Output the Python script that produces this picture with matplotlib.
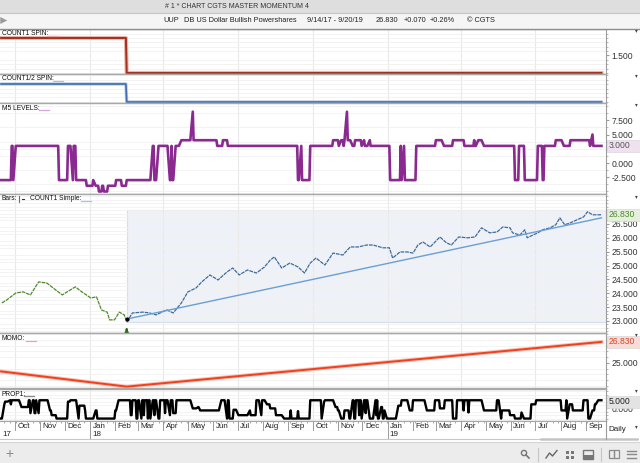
import numpy as np
import pandas as pd
import matplotlib
matplotlib.use("Agg")
import matplotlib.pyplot as plt
import matplotlib.transforms as mtrans
from matplotlib.patches import Rectangle, Circle, FancyBboxPatch

plt.rcParams['font.family'] = ['Liberation Sans', 'DejaVu Sans']

W, H = 640, 463
RX = 606  # right edge of the chart panels, scale column beyond it

# ---- data ----
start_date = "2017-09-14"
turn_date = "2018-02-15"
end_date = "2019-09-20"

spin_dates = [start_date, turn_date, end_date]
count1_spin = [2, 1, 1]
count_half_spin = [2, 1, 1]

m5_points = [
    ("2017-09-14", -3), ("2017-09-27", 3), ("2017-09-29", -3), ("2017-10-02", 3),
    ("2017-11-24", -3), ("2017-12-05", 3), ("2017-12-09", -3), ("2017-12-12", 3),
    ("2017-12-15", -3), ("2017-12-28", -4), ("2018-01-05", -3), ("2018-01-08", -4),
    ("2018-01-12", -5), ("2018-01-16", -4), ("2018-01-18", -5), ("2018-01-23", -4),
    ("2018-02-02", -3), ("2018-02-09", -4), ("2018-02-15", -3), ("2018-03-19", 3),
    ("2018-03-21", -3), ("2018-03-26", 3), ("2018-04-09", -3), ("2018-04-11", 3),
    ("2018-04-12", -3), ("2018-04-16", 3), ("2018-04-23", 4), ("2018-05-07", 9),
    ("2018-05-08", 4), ("2018-06-06", 3), ("2018-06-13", 4), ("2018-06-19", 3),
    ("2018-09-13", -3), ("2018-09-17", 3), ("2018-09-18", -3), ("2018-09-28", 3),
    ("2018-10-26", 4), ("2018-11-02", 3), ("2018-11-05", 4), ("2018-11-08", 3),
    ("2018-11-09", 4), ("2018-11-12", 9), ("2018-11-13", 4), ("2018-11-19", 3),
    ("2018-11-22", 4), ("2018-11-30", 3), ("2018-12-03", 4), ("2018-12-04", 3),
    ("2018-12-10", 4), ("2018-12-11", 3), ("2019-01-04", -3), ("2019-01-17", 3),
    ("2019-01-18", -3), ("2019-01-21", 3), ("2019-01-22", -3), ("2019-02-05", 3),
    ("2019-03-01", 4), ("2019-03-11", 3), ("2019-03-22", 4), ("2019-04-05", 3),
    ("2019-04-17", 4), ("2019-04-18", 3), ("2019-04-22", 4), ("2019-04-29", 3),
    ("2019-06-06", -3), ("2019-06-11", 3), ("2019-06-18", -3), ("2019-07-04", 3),
    ("2019-07-10", -3), ("2019-07-12", 3), ("2019-07-26", 4), ("2019-08-05", 3),
    ("2019-08-13", 4), ("2019-09-06", 3), ("2019-09-09", 5), ("2019-09-10", 3),
    ("2019-09-20", 3),
]

price_before = [
    ("2017-09-15", 23.65), ("2017-09-21", 23.76), ("2017-10-02", 24.01), ("2017-10-11", 24.05),
    ("2017-10-20", 23.94), ("2017-10-30", 24.41), ("2017-11-09", 24.37), ("2017-11-20", 24.12),
    ("2017-11-28", 23.94), ("2017-12-04", 24.05), ("2017-12-14", 24.23), ("2017-12-22", 24.05),
    ("2018-01-02", 23.83), ("2018-01-09", 23.87), ("2018-01-15", 23.40), ("2018-01-22", 23.32),
    ("2018-01-25", 23.04), ("2018-01-31", 23.04), ("2018-02-06", 23.32), ("2018-02-12", 23.22),
    ("2018-02-15", 22.96),
]
price_after = [
    ("2018-02-15", 22.96), ("2018-02-22", 23.29), ("2018-03-07", 23.32), ("2018-03-15", 23.29),
    ("2018-03-23", 23.22), ("2018-04-05", 23.40), ("2018-04-13", 23.29), ("2018-04-23", 23.65),
    ("2018-05-01", 24.05), ("2018-05-11", 24.19), ("2018-05-18", 24.41), ("2018-05-28", 24.66),
    ("2018-06-07", 24.48), ("2018-06-18", 24.77), ("2018-06-25", 24.91), ("2018-07-03", 24.66),
    ("2018-07-13", 24.84), ("2018-07-24", 24.73), ("2018-08-03", 24.95), ("2018-08-10", 25.20),
    ("2018-08-15", 25.31), ("2018-08-24", 24.91), ("2018-09-03", 25.09), ("2018-09-13", 24.95),
    ("2018-09-21", 24.73), ("2018-09-28", 25.09), ("2018-10-05", 25.27), ("2018-10-16", 25.02),
    ("2018-10-26", 25.45), ("2018-11-07", 25.38), ("2018-11-16", 25.67), ("2018-11-26", 25.67),
    ("2018-12-06", 25.74), ("2018-12-14", 25.74), ("2018-12-26", 25.64), ("2019-01-03", 25.64),
    ("2019-01-07", 25.27), ("2019-01-16", 25.49), ("2019-01-25", 25.49), ("2019-02-01", 25.45),
    ("2019-02-07", 25.74), ("2019-02-13", 25.85), ("2019-02-22", 25.67), ("2019-03-06", 26.03),
    ("2019-03-14", 25.82), ("2019-03-20", 25.74), ("2019-03-29", 26.03), ("2019-04-09", 26.00),
    ("2019-04-18", 26.03), ("2019-04-26", 26.36), ("2019-05-06", 26.18), ("2019-05-15", 26.21),
    ("2019-05-22", 26.39), ("2019-05-31", 26.36), ("2019-06-03", 26.18), ("2019-06-12", 26.10),
    ("2019-06-18", 26.29), ("2019-06-21", 26.00), ("2019-06-28", 26.10), ("2019-07-04", 26.18),
    ("2019-07-10", 26.29), ("2019-07-19", 26.36), ("2019-07-26", 26.47), ("2019-07-31", 26.72),
    ("2019-08-06", 26.47), ("2019-08-13", 26.54), ("2019-08-21", 26.65), ("2019-08-29", 26.75),
    ("2019-09-03", 26.94), ("2019-09-09", 26.83), ("2019-09-20", 26.83),
]
last_price = 26.83

trend_dates = [turn_date, end_date]
trend_vals = [23.07, 26.72]

momo_dates = [start_date, turn_date, end_date]
momo_vals = [24.25, 22.92, 26.83]

prop1_points = [
    ("2017-09-14", -7.5), ("2017-09-18", 3), ("2017-09-19", 5), ("2017-09-25", 6),
    ("2017-09-26", 3), ("2017-09-27", 6), ("2017-10-09", 1), ("2017-10-18", 6),
    ("2017-10-20", -3.5), ("2017-10-23", 6), ("2017-10-25", -3.5), ("2017-10-27", 6),
    ("2017-10-30", -3.5), ("2017-10-31", 6), ("2017-11-13", -1.5), ("2017-11-15", -5),
    ("2017-11-21", -7.5), ("2017-12-05", 5), ("2017-12-08", 6), ("2017-12-18", -7.5),
    ("2017-12-19", 2), ("2017-12-26", -1.5), ("2017-12-27", -7.5), ("2018-01-08", -1.5),
    ("2018-01-10", -7.5), ("2018-02-01", -1.5), ("2018-02-05", 6), ("2018-02-20", -5),
    ("2018-02-22", 6), ("2018-02-27", -7.5), ("2018-03-01", 6), ("2018-03-05", -7.5),
    ("2018-03-06", 6), ("2018-03-08", -5), ("2018-03-09", 6), ("2018-03-13", -7.5),
    ("2018-03-14", 6), ("2018-03-16", -7.5), ("2018-03-19", 6), ("2018-03-21", -5),
    ("2018-03-22", 6), ("2018-03-26", -7.5), ("2018-03-28", 6), ("2018-04-03", -3.5),
    ("2018-04-04", 6), ("2018-04-09", -5), ("2018-04-10", 6), ("2018-04-13", -3.5),
    ("2018-04-17", 6), ("2018-05-07", 0), ("2018-05-14", 1), ("2018-05-15", 0),
    ("2018-05-16", -1.5), ("2018-06-11", 6), ("2018-06-18", -7.5), ("2018-06-19", 6),
    ("2018-06-21", -7.5), ("2018-06-26", -1), ("2018-07-02", -5), ("2018-07-16", -1.5),
    ("2018-07-17", -5), ("2018-07-24", 6), ("2018-07-30", -5), ("2018-07-31", 6),
    ("2018-08-06", 3), ("2018-08-10", 0), ("2018-08-17", -5), ("2018-08-27", -7.5),
    ("2018-09-04", -1.5), ("2018-09-05", -7.5), ("2018-09-13", -2), ("2018-09-14", -7.5),
    ("2018-09-28", 6), ("2018-10-12", -7.5), ("2018-10-15", 5), ("2018-10-16", 6),
    ("2018-10-29", 1), ("2018-11-01", -1.5), ("2018-11-05", -7.5), ("2018-11-09", -1.5),
    ("2018-11-15", -7.5), ("2018-11-19", 6), ("2018-11-21", -7.5), ("2018-11-23", 6),
    ("2018-11-27", -5), ("2018-11-28", 6), ("2018-11-30", -7.5), ("2018-12-03", 6),
    ("2018-12-05", -3.5), ("2018-12-06", 6), ("2018-12-10", -7.5), ("2018-12-17", 6),
    ("2018-12-18", -5), ("2018-12-19", 6), ("2018-12-20", -7.5), ("2018-12-24", 1),
    ("2018-12-26", -7.5), ("2018-12-28", -1.5), ("2018-12-31", -7.5), ("2019-01-14", 2),
    ("2019-01-18", 6), ("2019-01-28", -1.5), ("2019-02-01", 6), ("2019-02-18", -1.5),
    ("2019-02-28", 6), ("2019-03-06", 0), ("2019-03-12", 6), ("2019-03-22", -7.5),
    ("2019-03-27", 6), ("2019-04-04", -1.5), ("2019-04-05", 6), ("2019-04-10", -3),
    ("2019-04-11", 6), ("2019-04-29", -1.5), ("2019-05-15", 6), ("2019-05-20", -7.5),
    ("2019-05-21", -1.5), ("2019-05-31", -5), ("2019-06-06", -7.5), ("2019-06-14", -3),
    ("2019-06-17", -7.5), ("2019-06-26", 3), ("2019-07-02", 6), ("2019-08-02", -1.5),
    ("2019-08-08", 6), ("2019-08-09", -7.5), ("2019-08-12", 3), ("2019-08-16", -1.5),
    ("2019-08-29", 6), ("2019-09-04", -7.5), ("2019-09-09", -1.5), ("2019-09-12", 3),
    ("2019-09-16", 6), ("2019-09-20", 6),
]

month_labels = ["Oct", "Nov", "Dec", "Jan", "Feb", "Mar", "Apr", "May", "Jun", "Jul", "Aug", "Sep"]
year_labels = ["17", "18", "19"]

# ---- helpers ----
bdays = pd.bdate_range(start_date, end_date)
x_lo = pd.Timestamp("2017-09-12 16:00")
x_hi = pd.Timestamp("2019-09-25 14:00")
grid_dates = pd.to_datetime(["2017-10-01", "2018-01-01", "2018-04-01", "2018-07-01",
                             "2018-10-01", "2019-01-01", "2019-04-01", "2019-07-01"])


def daily(points):
    s = pd.Series([v for d, v in points], index=pd.to_datetime([d for d, v in points]))
    s = s[~s.index.duplicated(keep="last")]
    return s.reindex(s.index.union(bdays)).ffill().reindex(bdays)


def unzip(points):
    return pd.to_datetime([d for d, v in points]), [v for d, v in points]


fig = plt.figure(figsize=(W / 100, H / 100), dpi=100)
fig.patch.set_facecolor("white")


def px_axes(y0, y1, x0=0, x1=RX):
    return fig.add_axes([x0 / W, 1 - y1 / H, (x1 - x0) / W, (y1 - y0) / H])


def panel(y0, y1, ylim, ticks, minor_step):
    ax = px_axes(y0, y1)
    ax.set_xlim(x_lo, x_hi)
    ax.set_ylim(*ylim)
    ax.spines["left"].set_visible(False)
    for s in ["top", "bottom"]:
        ax.spines[s].set_color("#a8a8a8")
        ax.spines[s].set_linewidth(1.0)
    ax.spines["right"].set_color("#9c9c9c")
    ax.yaxis.tick_right()
    ax.set_yticks(ticks)
    ax.set_yticklabels(["%.3f" % t for t in ticks])
    ax.set_yticks(np.arange(np.ceil(ylim[0] / minor_step) * minor_step, ylim[1], minor_step), minor=True)
    ax.tick_params(axis="y", which="major", labelsize=6.2, length=2, pad=2, colors="#333333", color="#9c9c9c")
    ax.tick_params(axis="y", which="minor", length=1.2, color="#b0b0b0")
    ax.set_xticks(grid_dates)
    ax.tick_params(axis="x", length=0, labelbottom=False)
    ax.grid(axis="x", color="#e9e9e9", lw=0.8)
    ax.grid(axis="y", which="minor", color="#f1f1f1", lw=0.6)
    ax.set_axisbelow(True)
    return ax


# ---- panels ----
ax1 = panel(29, 74, (0.971, 2.257), [1.5], 0.125)
ax1.plot(bdays, daily(list(zip(spin_dates, count1_spin))), color="#e9b4ab", lw=3.0)
ax1.plot(bdays, daily(list(zip(spin_dates, count1_spin))), color="#a3301f", lw=1.4)

ax2 = panel(74, 103, (0.944, 2.556), [], 0.25)
ax2.plot(bdays, daily(list(zip(spin_dates, count_half_spin))), color="#b9cbe4", lw=2.4)
ax2.plot(bdays, daily(list(zip(spin_dates, count_half_spin))), color="#3d6db0", lw=1.2)

ax3 = panel(103, 194, (-5.44, 10.53), [-2.5, 0, 5, 7.5], 1.25)
ax3.plot(bdays, daily(m5_points), color="#8a2a90", lw=1.9)

ax4 = panel(194, 333, (22.567, 27.58), list(np.arange(23.0, 26.6, 0.5)), 0.125)
ax4.add_patch(Rectangle((pd.Timestamp(turn_date), 22.98), x_hi - pd.Timestamp(turn_date), 27.0 - 22.98,
                        facecolor="#eef1f7", edgecolor="#d6dcea", lw=0.8, zorder=0.5))
d, v = unzip(price_before)
ax4.plot(d, v, color="#4f8a2c", lw=0.9, dashes=(3.0, 0.7))
d, v = unzip(price_after)
ax4.plot(d, v, color="#3f6c9c", lw=0.9, dashes=(3.0, 0.7))
ax4.plot(pd.to_datetime(trend_dates), trend_vals, color="#6a9fd4", lw=1.0)
ax4.plot(pd.Timestamp(turn_date), trend_vals[0], "o", color="black", ms=2)
ax4.annotate("", xy=(pd.Timestamp(turn_date), 22.84), xytext=(pd.Timestamp(turn_date), 22.58),
             arrowprops=dict(arrowstyle="-|>", color="#2e6b1e", lw=1.6, mutation_scale=6),
             annotation_clip=False)

ax5 = panel(333, 388, (22.8, 27.61), [25.0], 0.5)
ax5.plot(pd.to_datetime(momo_dates), momo_vals, color="#f7c2b6", lw=2.8)
ax5.plot(pd.to_datetime(momo_dates), momo_vals, color="#f0401c", lw=1.4)

ax6 = panel(389, 421, (-9.3, 14.3), [0.0], 2.5)
ax6.plot(bdays, daily(prop1_points), color="black", lw=1.7)

# ---- overlay in pixel coordinates (y from top) ----
ov = fig.add_axes([0, 0, 1, 1], zorder=10)
ov.set_xlim(0, W)
ov.set_ylim(H, 0)
ov.axis("off")
ov.patch.set_alpha(0)

# header bars
ov.add_patch(Rectangle((0, 0), W, 13, facecolor="#dedede", edgecolor="none"))
ov.plot([0, W], [13, 13], color="#c4c4c4", lw=0.8)
ov.add_patch(Rectangle((0, 13), W, 15.5, facecolor="#f5f5f5", edgecolor="none"))
ov.plot([0, W], [28.5, 28.5], color="#8e8e8e", lw=1.0)
ov.text(237, 7, "# 1 * CHART CGTS MASTER MOMENTUM 4", ha="center", va="center", fontsize=5.0, color="#333333")
ov.annotate("", xy=(10, 20.5), xytext=(2, 20.5),
            arrowprops=dict(arrowstyle="simple,head_width=0.5,head_length=0.5,tail_width=0.25",
                            color="#9a9a9a", lw=0))
hdr = [(163, "UUP"), (184, "DB US Dollar Bullish Powershares"), (307, "9/14/17 - 9/20/19"),
       (376, "26.830"), (404, "+0.070"), (430, "+0.26%"), (467, "© CGTS")]
for x, t in hdr:
    ov.text(x, 20.5, t, ha="left", va="center", fontsize=5.3, color="#222222")

# panel titles with their legend swatches
titles = [(33.5, "COUNT1 SPIN:", 48, "#e2a79c"), (79, "COUNT1/2 SPIN:", 53, "#a9c2e2"),
          (108, "M5 LEVELS:", 39, "#d8a6dc"), (338.5, "MOMO:", 26, "#f4a394"),
          (394, "PROP1:", 24, "#888888")]
for y, t, sx, sc in titles:
    ov.text(2, y, t, ha="left", va="center", fontsize=4.8, color="#111111")
    ov.plot([sx, sx + 10], [y + 2.2, y + 2.2], color=sc, lw=0.9)
ov.text(2, 199, "Bars:", ha="left", va="center", fontsize=4.8, color="#111111")
ov.plot([19, 19], [196, 202], color="#4f8a2c", lw=0.8)
ov.plot([22, 24], [199, 199], color="#333333", lw=0.8)
ov.text(30, 199, "COUNT1 Simple:", ha="left", va="center", fontsize=4.8, color="#111111")
ov.plot([81, 91], [201.2, 201.2], color="#a9c2e2", lw=0.9)

# little menu triangles in the scale column
for y in [31, 76, 105, 196.5, 335, 391]:
    ov.text(636, y, "▾", ha="center", va="center", fontsize=4, color="#444444")


# value boxes in the scale column
def value_box(ax, val, fc, tc):
    y = H - ax.transData.transform((0, val))[1]
    ov.add_patch(Rectangle((RX + 0.5, y - 6), W - RX, 12, facecolor=fc, edgecolor="#d8d8d8", lw=0.5))
    ov.text(RX + 3, y, "%.3f" % val, ha="left", va="center", fontsize=6.2, color=tc)


value_box(ax3, 3.0, "#f0e1f0", "#555555")
value_box(ax4, last_price, "#e4efdc", "#4f8a2c")
value_box(ax5, momo_vals[-1], "#f9dcd6", "#d8452b")
value_box(ax6, 5.0, "#e3e3e3", "#222222")

# time strips (months and years)
axm = px_axes(421, 431)
axy = px_axes(431, 439)
months = pd.date_range("2017-10-01", "2019-09-01", freq="MS")
for a in (axm, axy):
    a.set_xlim(x_lo, x_hi)
    a.set_ylim(0, 1)
    a.set_yticks([])
    a.set_xticks([])
    for s in ["left", "right", "top"]:
        a.spines[s].set_visible(False)
    a.spines["bottom"].set_color("#c8c8c8")
axm.spines["top"].set_visible(True)
axm.spines["top"].set_color("#a8a8a8")
axm.set_xticks(pd.date_range("2017-09-18", "2019-09-16", freq="W-MON"), minor=True)
axm.tick_params(axis="x", which="minor", direction="in", top=True, bottom=False, length=1.5,
                color="#999999", labelbottom=False)
off = mtrans.offset_copy(axm.transData, fig=fig, x=2.5, y=0, units="dots")
for m in months:
    axm.axvline(m, color="#9a9a9a", lw=0.7)
    axm.text(m, 0.45, month_labels[(m.month - 10) % 12], transform=off, ha="left", va="center",
             fontsize=5.8, color="#222222")
offy = mtrans.offset_copy(axy.transData, fig=fig, x=2, y=0, units="dots")
year_starts = [x_lo, pd.Timestamp("2018-01-01"), pd.Timestamp("2019-01-01")]
for ys, yl in zip(year_starts, year_labels):
    if ys != x_lo:
        axy.axvline(ys, color="#9a9a9a", lw=0.7)
    axy.text(ys, 0.5, yl, transform=offy, ha="left", va="center", fontsize=5.8, color="#222222")

ov.plot([RX, RX], [421, 439], color="#9c9c9c", lw=0.8)
ov.text(617, 429.5, "Daily", ha="center", va="center", fontsize=5.8, color="#222222")
ov.text(636, 427, "▾", ha="center", va="center", fontsize=4, color="#444444")

# scroll bar and bottom toolbar
ov.add_patch(FancyBboxPatch((540, 438.3), 99, 2.4, boxstyle="round,pad=0,rounding_size=1.2",
                            facecolor="#c2c2c2", edgecolor="none"))
ov.add_patch(Rectangle((0, 442), W, 21, facecolor="#ececec", edgecolor="none"))
ov.plot([0, W], [442, 442], color="#d4d4d4", lw=0.8)
ov.text(9, 454, "+", ha="center", va="center", fontsize=10, color="#8a8a8a")
ov.add_patch(Circle((524, 453), 2.6, facecolor="none", edgecolor="#777777", lw=1.0))
ov.plot([526, 529], [455, 458], color="#777777", lw=1.2)
for x in [538, 601]:
    ov.plot([x, x], [448, 461], color="#c6c6c6", lw=0.8)
ov.plot([546, 549.5, 552.5, 557], [458, 453, 456, 450.5], color="#666666", lw=1.0)
for dx, dy in [(0, 0), (5, 0), (0, 5), (5, 5)]:
    ov.add_patch(Rectangle((565.5 + dx, 450.5 + dy), 3.5, 3.5, facecolor="#777777", edgecolor="none"))
ov.add_patch(Rectangle((583, 450), 10, 8.5, facecolor="none", edgecolor="#777777", lw=1.0))
ov.add_patch(Rectangle((583, 455), 10, 3.5, facecolor="#777777", edgecolor="none"))
ov.add_patch(Rectangle((608.5, 450), 5, 8, facecolor="none", edgecolor="#8a8a8a", lw=0.9))
ov.add_patch(Rectangle((613.5, 450), 5, 8, facecolor="none", edgecolor="#8a8a8a", lw=0.9))
for yy in [450.5, 454, 457.5]:
    ov.plot([627, 636], [yy, yy], color="#8a8a8a", lw=1.0)

fig.savefig("out.png", dpi=100)
